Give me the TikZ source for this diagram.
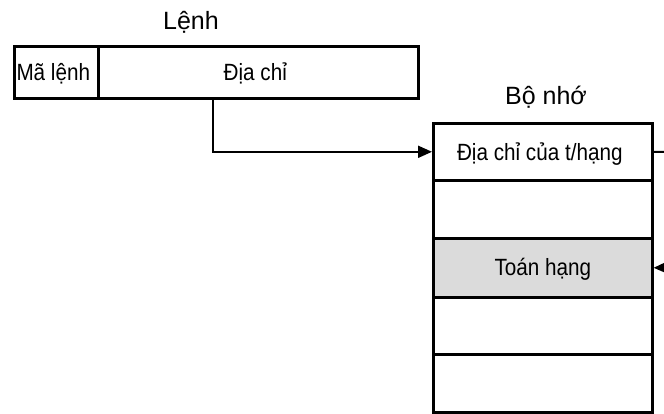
\documentclass[tikz,border=0pt]{standalone}
\usepackage{fontspec}
\setmainfont{Liberation Sans}
\newfontfamily\condfont[FakeStretch=0.88]{Liberation Sans}
\usetikzlibrary{arrows.meta}
\begin{document}
\begin{tikzpicture}[x=1pt,y=-1pt,
  box/.style={draw,line width=2.6pt,inner sep=0pt,anchor=north west},
  lbl/.style={font=\condfont\fontsize{23.5}{26}\selectfont},
  ttl/.style={font=\fontsize{25}{28}\selectfont},
  conn/.style={line width=2pt,-{Triangle[length=14pt,width=12pt]}}]
\useasboundingbox (0,0) rectangle (664,414);
\clip (0,0) rectangle (664,414);
% instruction
\node[box,minimum width=84pt,minimum height=52pt] (op) at (13,45) {};
\node[box,minimum width=320pt,minimum height=52pt] (addr) at (97,45) {};
\node[lbl] at ([xshift=-3pt,yshift=-1pt]op.center) {Mã lệnh};
\node[lbl] at ([xshift=-3pt,yshift=-1pt]addr.center) {Địa chỉ};
\node[ttl] (lenh) at (191,22) {Lệnh};
% memory
\node[ttl] (bonho) at (546,97) {Bộ nhớ};
\node[box,minimum width=219pt,minimum height=57pt] (m1) at (432,122) {};
\node[box,minimum width=219pt,minimum height=58pt] (m2) at (432,179) {};
\node[box,fill=black!14,minimum width=219pt,minimum height=59pt] (m3) at (432,237) {};
\node[box,minimum width=219pt,minimum height=57pt] (m4) at (432,296) {};
\node[box,minimum width=219pt,minimum height=58pt] (m5) at (432,353) {};
\node[lbl] at ([xshift=-3pt,yshift=-2pt]m1.center) {Địa chỉ của t/hạng};
\node[lbl] at ([yshift=-1pt]m3.center) {Toán hạng};
% connectors
\coordinate (out) at (700,152);
\coordinate (in) at (700,267);
\draw[conn] (addr.south west -| 213,0) |- (m1.west);
\draw[conn] (m1.east) -- (out) -- (in) -- (m3.east);
\end{tikzpicture}
\end{document}
